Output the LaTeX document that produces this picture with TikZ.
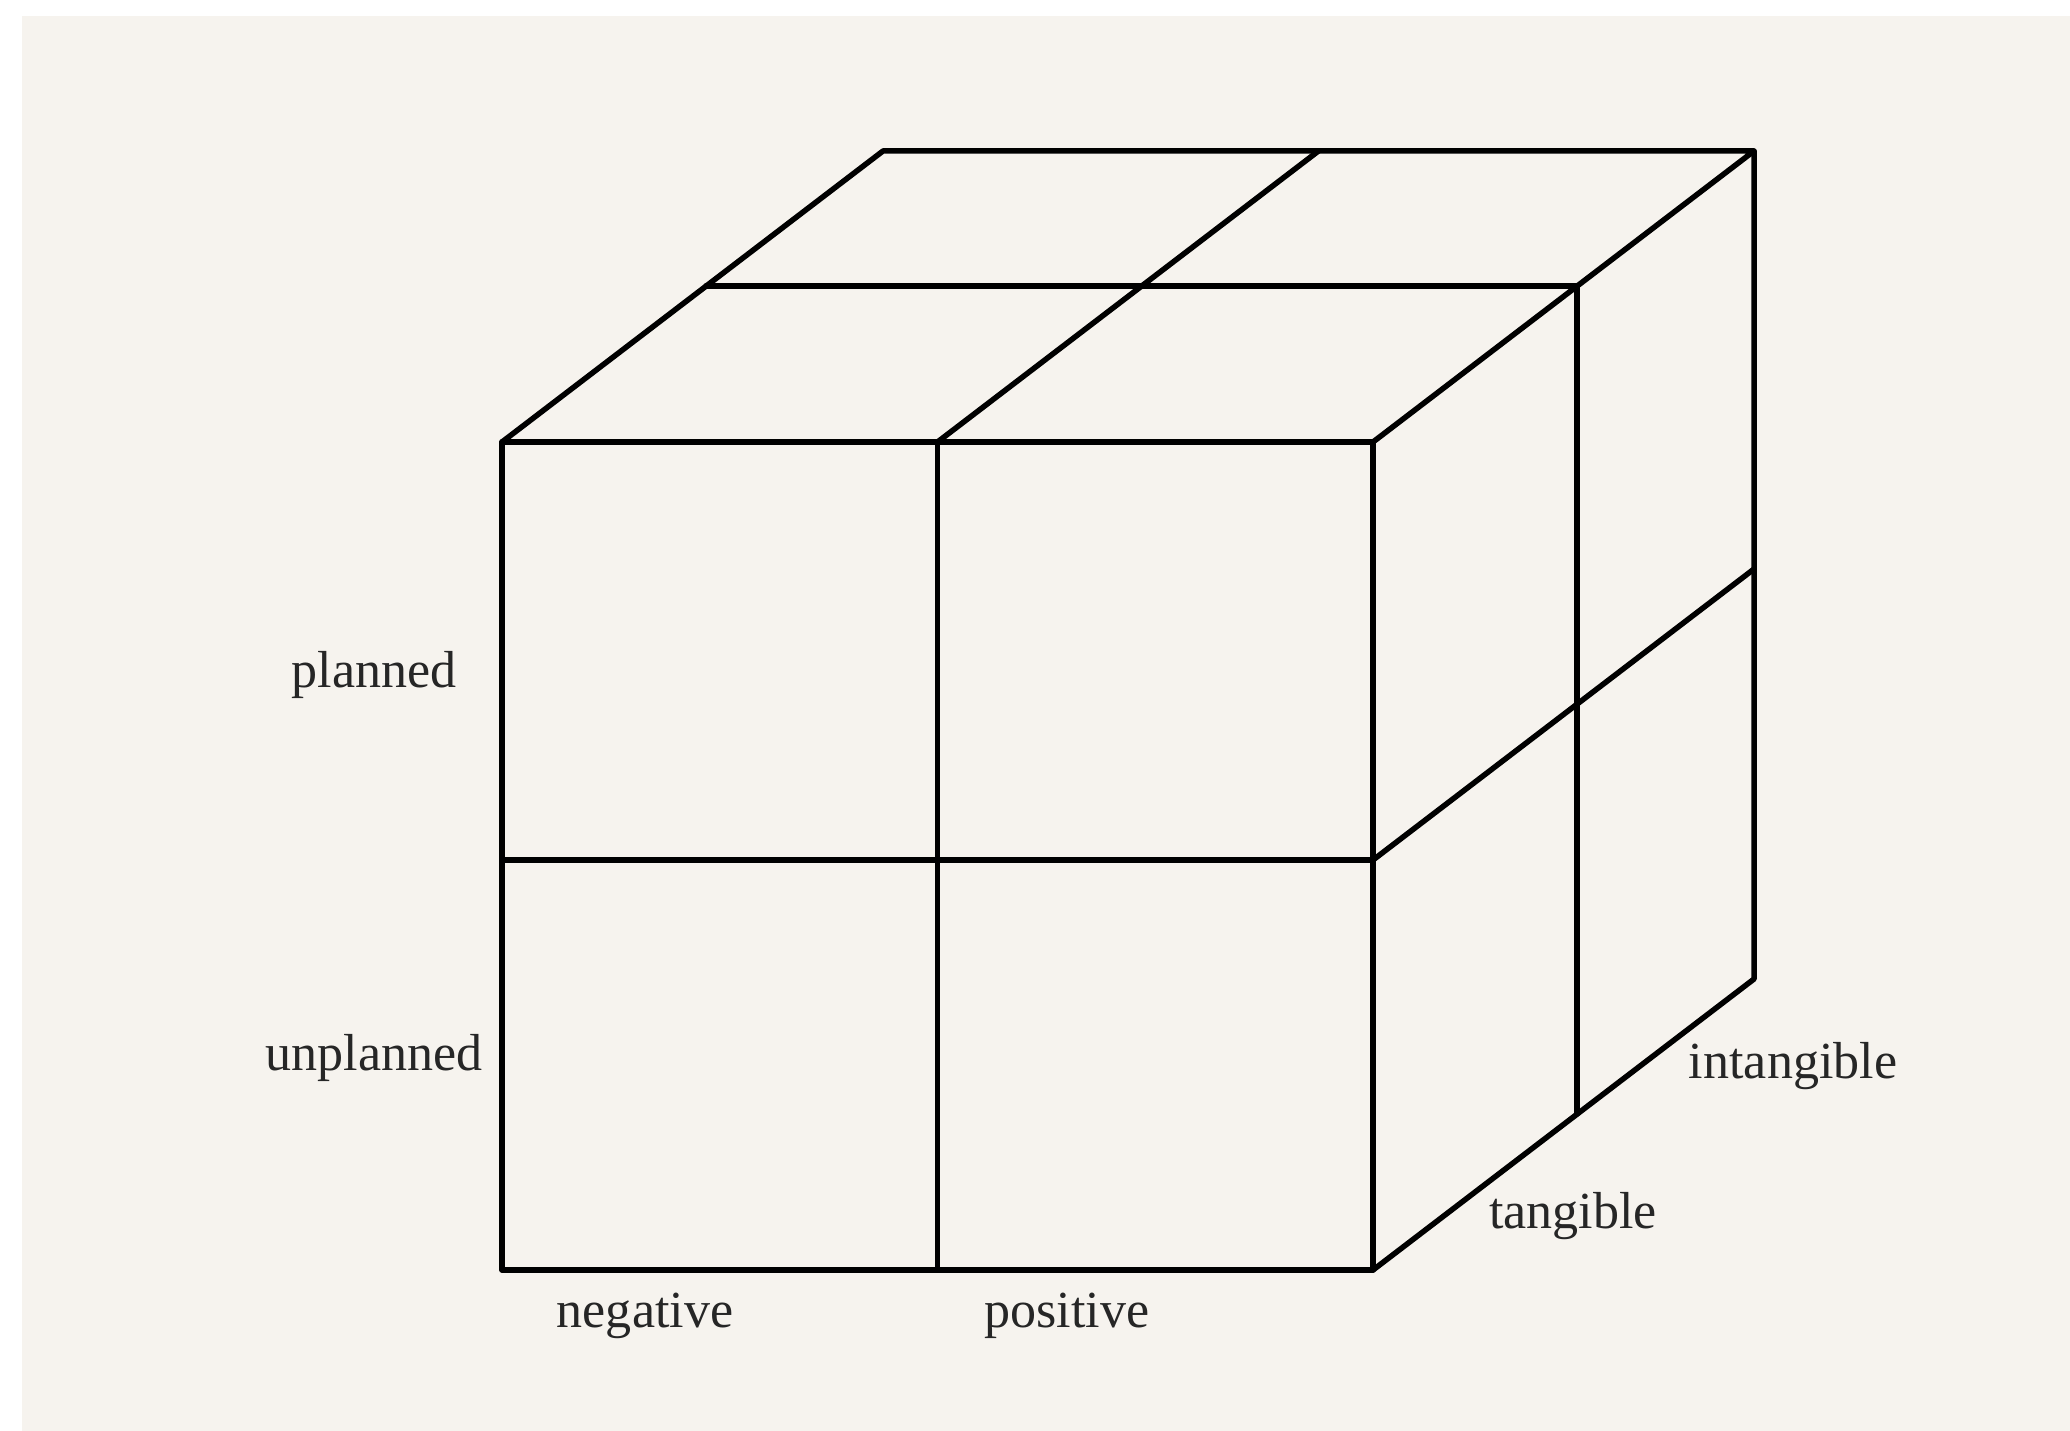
\documentclass[tikz,border=0pt]{standalone}
\usepackage{fontspec}
\setmainfont{Liberation Serif}
\usetikzlibrary{calc}
\definecolor{bg}{HTML}{F6F3EE}
\begin{document}
\begin{tikzpicture}[x=0.01cm,y=-0.01cm,
  edge/.style={line width=0.055cm,line join=round,line cap=round,black},
  lab/.style={anchor=base,inner sep=0pt,font=\fontsize{14.8}{16}\selectfont,text=black!85}]
\useasboundingbox (0,0) rectangle (2070,1431);
\fill[bg] (22,16) rectangle (2070,1431);
% front face corners
\coordinate (A) at (502,442);
\coordinate (B) at (1373,442);
\coordinate (C) at (1373,1270);
\coordinate (D) at (502,1270);
% depth vectors
\coordinate (A2) at ($(A)+(381,-291)$);
\coordinate (B2) at ($(B)+(381,-291)$);
\coordinate (C2) at ($(C)+(381,-291)$);
\coordinate (Am) at ($(A)+(204,-156)$);
\coordinate (Bm) at ($(B)+(204,-156)$);
\coordinate (Cm) at ($(C)+(204,-156)$);
\coordinate (Ft) at ($(A)!0.5!(B)$);
\coordinate (Fb) at ($(D)!0.5!(C)$);
\coordinate (Ft2) at ($(Ft)+(381,-291)$);
\coordinate (Fl) at (502,860);
\coordinate (Fr) at (1373,860);
\coordinate (Fr2) at ($(Fr)+(381,-291)$);
% front face
\draw[edge] (A) -- (B) -- (C) -- (D) -- cycle;
\draw[edge] (Ft) -- (Fb);
\draw[edge] (Fl) -- (Fr);
% top face
\draw[edge] (A) -- (A2) -- (B2) -- (B);
\draw[edge] (Ft) -- (Ft2);
\draw[edge] (Am) -- (Bm);
% right face
\draw[edge] (B2) -- (C2) -- (C);
\draw[edge] (Bm) -- (Cm);
\draw[edge] (Fr) -- (Fr2);
% labels
\node[lab] (planned) at (374,688) {planned};
\node[lab] (unplanned) at (374,1070) {unplanned};
\node[lab] (negative) at (645,1327) {negative};
\node[lab] (positive) at (1067,1327) {positive};
\node[lab] (tangible) at (1573,1228) {tangible};
\node[lab] (intangible) at (1793,1078) {intangible};
\end{tikzpicture}
\end{document}
